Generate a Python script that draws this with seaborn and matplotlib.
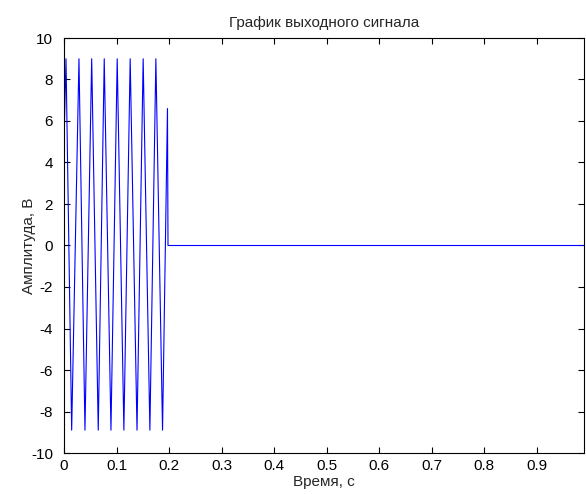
import seaborn as sns
import matplotlib
matplotlib.use("Agg")
import matplotlib.pyplot as plt
import numpy as np
import pandas as pd

# peaks / troughs (seconds, volts)
time_pts = [0.0, 0.0038, 0.0146, 0.0285, 0.0399, 0.0527, 0.0652, 0.0766, 0.0894,
            0.1013, 0.1140, 0.1260, 0.1390, 0.1507, 0.1635, 0.1749, 0.1876,
            0.1970, 0.1980, 0.99]
volt_pts = [5.0, 9.0, -8.9, 9.0, -8.9, 9.0, -8.9, 9.0, -8.9,
            9.0, -8.9, 9.0, -8.9, 9.0, -8.9, 9.0, -8.9,
            6.6, 0.0, 0.0]

x_ticks = [0, 0.1, 0.2, 0.3, 0.4, 0.5, 0.6, 0.7, 0.8, 0.9]
x_labels = ["0", "0.1", "0.2", "0.3", "0.4", "0.5", "0.6", "0.7", "0.8", "0.9"]
y_ticks = [-10, -8, -6, -4, -2, 0, 2, 4, 6, 8, 10]

sns.set_theme(style="ticks", rc={"xtick.direction": "in", "ytick.direction": "in"})
plt.rcParams['font.family'] = ['Liberation Sans', 'DejaVu Sans']
plt.rcParams['axes.unicode_minus'] = False

df = pd.DataFrame({"t": time_pts, "v": volt_pts})

fig = plt.figure(figsize=(5.86, 4.94), dpi=100)
ax = fig.add_axes([64/586, 41/494, 520/586, 415/494])
sns.lineplot(data=df, x="t", y="v", sort=False, estimator=None, color="#0000ff", lw=0.8, ax=ax)

fs = 11
ax.set_xlim(0, 0.99)
ax.set_ylim(-10, 10)
ax.set_xticks(x_ticks)
ax.set_xticklabels(x_labels)
ax.set_yticks(y_ticks)
ax.tick_params(axis="both", which="both", direction="in", length=4, width=0.8,
               labelsize=fs, colors="black", top=True, right=True)
ax.tick_params(axis="x", pad=4)
ax.tick_params(axis="y", pad=8)
for s in ax.spines.values():
    s.set_color("black")
    s.set_linewidth(0.8)
    s.set_visible(True)

ax.set_title("График выходного сигнала", fontsize=fs, pad=8)
ax.set_xlabel("Время, с", fontsize=fs, labelpad=2)
ax.set_ylabel("Амплитуда, В", fontsize=fs)
ax.yaxis.set_label_coords(-0.053, 0.5)

fig.savefig("out.png", dpi=100)
